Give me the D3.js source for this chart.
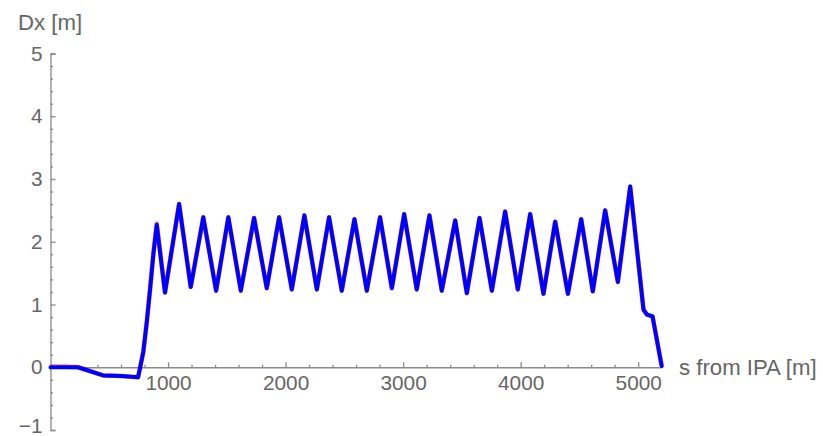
<!DOCTYPE html>
<html>
<head>
<meta charset="utf-8">
<script src="https://cdn.jsdelivr.net/npm/d3@7"></script>
<style>
  html, body { margin: 0; padding: 0; background: #fff; }
  svg { display: block; }
  .axis text { font-family: "Liberation Sans", Arial, sans-serif; font-size: 20.8px; fill: #666; }
  .axis path, .axis line { stroke: #8a8a8a; stroke-width: 1.3; }
  .lbl { font-family: "Liberation Sans", Arial, sans-serif; font-size: 22.2px; fill: #666; }
</style>
</head>
<body>
<svg id="chart" width="823" height="436"></svg>
<script>
// Horizontal dispersion along the ring, s measured from IPA
const sPos = [0, 120, 234, 300, 447, 600, 745, 763, 790, 818, 847, 875, 904,
  974, 1094, 1193, 1300, 1409, 1513, 1619, 1732, 1840, 1945, 2053, 2160, 2266,
  2370, 2478, 2586, 2691, 2804, 2904, 3009, 3116, 3224, 3329, 3443, 3542, 3650,
  3755, 3868, 3976, 4081, 4194, 4294, 4402, 4515, 4614, 4719, 4827, 4932, 5045,
  5074, 5122, 5200];
const dxBlue = [0, 0, 0, -0.04, -0.13, -0.14, -0.16, 0, 0.25, 0.7, 1.24, 1.8, 2.27,
  1.19, 2.6, 1.28, 2.39, 1.22, 2.39, 1.22, 2.38, 1.26, 2.39, 1.24, 2.42, 1.24,
  2.39, 1.22, 2.36, 1.22, 2.39, 1.26, 2.44, 1.24, 2.42, 1.22, 2.34, 1.18, 2.38,
  1.22, 2.48, 1.24, 2.44, 1.17, 2.32, 1.17, 2.36, 1.21, 2.5, 1.36, 2.88, 0.92,
  0.84, 0.81, 0.02];
const dxRed = [0.01, 0.01, 0, -0.04, -0.13, -0.14, -0.16, 0, 0.25, 0.7, 1.24, 1.8, 2.29,
  1.19, 2.6, 1.28, 2.39, 1.22, 2.39, 1.22, 2.38, 1.26, 2.39, 1.24, 2.42, 1.24,
  2.39, 1.22, 2.36, 1.22, 2.39, 1.26, 2.44, 1.24, 2.42, 1.22, 2.34, 1.18, 2.38,
  1.22, 2.48, 1.24, 2.44, 1.17, 2.32, 1.17, 2.36, 1.21, 2.5, 1.36, 2.88, 0.92,
  0.84, 0.81, 0.02];
const xMajorTicks = [1000, 2000, 3000, 4000, 5000];
const yMajorTicks = [-1, 0, 1, 2, 3, 4, 5];
const xLabel = "s from IPA [m]";
const yLabel = "Dx [m]";

const svg = d3.select("#chart");
const x = d3.scaleLinear().domain([0, 5200]).range([50.5, 661.7]);
const y = d3.scaleLinear().domain([-1, 5]).range([430, 53.5]);

const xMinor = d3.range(200, 5201, 200).filter(v => v % 1000 !== 0);
const yMinor = d3.range(-1, 5.001, 0.2).map(v => +v.toFixed(1)).filter(v => Math.abs(v - Math.round(v)) > 1e-6);

const fmt = d => d < 0 ? "\u2212" + Math.abs(d) : String(d);

// y axis: ticks point into the plot
svg.append("g").attr("class", "axis").attr("transform", `translate(${x(0)},0)`)
  .call(d3.axisLeft(y).tickValues(yMinor).tickSize(-2.5).tickSizeOuter(-5).tickFormat(""));
svg.append("g").attr("class", "axis").attr("transform", `translate(${x(0)},0)`)
  .call(d3.axisLeft(y).tickValues(yMajorTicks).tickSize(-5).tickSizeOuter(-5).tickPadding(8).tickFormat(fmt))
  .call(g => g.select(".domain").remove())
  .call(g => g.selectAll(".tick text").filter(d => d === -1).attr("dy", "0.1em"));

// x axis along Dx = 0
svg.append("g").attr("class", "axis").attr("transform", `translate(0,${y(0)})`)
  .call(d3.axisBottom(x).tickValues(xMinor).tickSize(-2.5).tickSizeOuter(0).tickFormat(""));
svg.append("g").attr("class", "axis").attr("transform", `translate(0,${y(0)})`)
  .call(d3.axisBottom(x).tickValues(xMajorTicks).tickSize(-5).tickPadding(8).tickFormat(d3.format("d")))
  .call(g => g.select(".domain").remove());

// curves: red under blue
const line = d3.line().x((d, i) => x(sPos[i])).y(d => y(d));
svg.append("path").datum(dxRed).attr("d", line)
  .attr("fill", "none").attr("stroke", "#d0103a").attr("stroke-width", 4.6)
  .attr("stroke-linejoin", "round").attr("stroke-opacity", 0.5);
svg.append("path").datum(dxBlue).attr("d", line)
  .attr("fill", "none").attr("stroke", "#0000ff").attr("stroke-width", 4)
  .attr("stroke-linejoin", "round").attr("stroke-linecap", "round");

// axis titles
svg.append("text").attr("class", "lbl").attr("x", 18).attr("y", 30).text(yLabel);
svg.append("text").attr("class", "lbl").attr("x", 679).attr("y", 375).text(xLabel);
</script>
</body>
</html>
